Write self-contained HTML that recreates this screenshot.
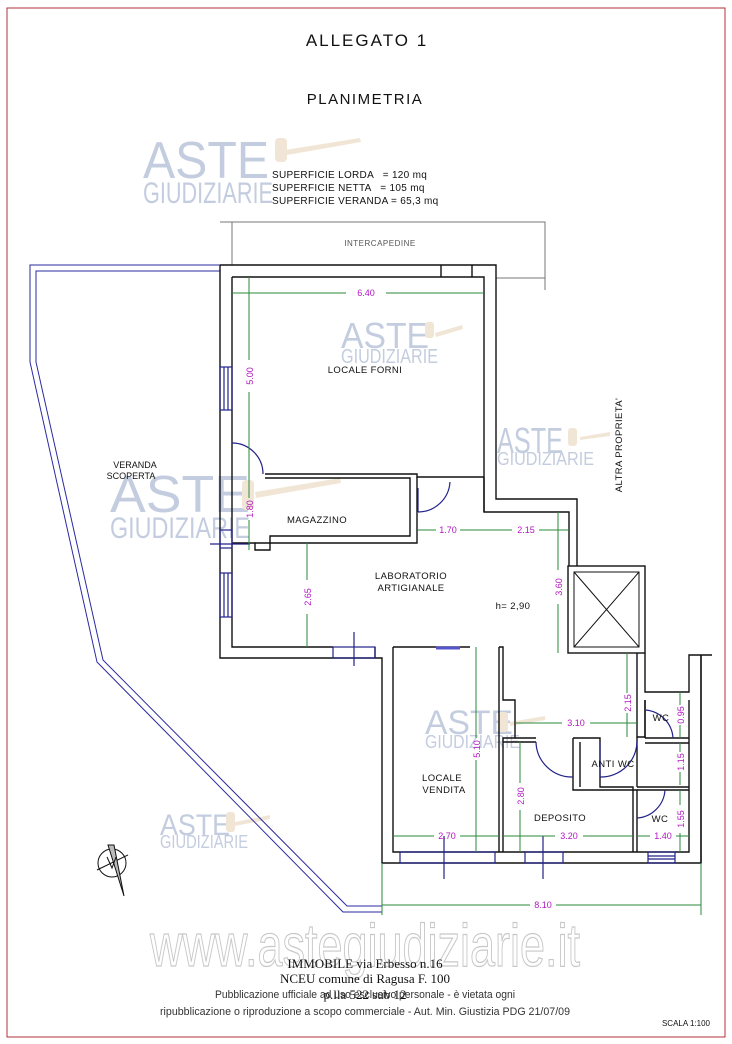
<!DOCTYPE html>
<html><head><meta charset="utf-8"><style>
html,body{margin:0;padding:0;background:#fff;}
svg{display:block;}
.t{font-family:"Liberation Sans",sans-serif;}
</style></head><body>
<svg width="732" height="1044" viewBox="0 0 732 1044" xmlns="http://www.w3.org/2000/svg">
<rect x="7" y="8" width="718" height="1029" fill="none" stroke="#b0303a" stroke-width="1"/>

<!-- watermarks ASTE -->
<g fill="#c3cddf" font-family="Liberation Sans,sans-serif">
 <text x="143" y="178" font-size="52" textLength="126" lengthAdjust="spacingAndGlyphs">ASTE</text>
 <text x="143" y="203" font-size="30" textLength="130" lengthAdjust="spacingAndGlyphs">GIUDIZIARIE</text>
 <text x="341" y="348" font-size="36" textLength="88" lengthAdjust="spacingAndGlyphs">ASTE</text>
 <text x="341" y="363" font-size="20" textLength="97" lengthAdjust="spacingAndGlyphs">GIUDIZIARIE</text>
 <text x="497" y="453" font-size="36" textLength="66" lengthAdjust="spacingAndGlyphs">ASTE</text>
 <text x="497" y="465" font-size="18" textLength="97" lengthAdjust="spacingAndGlyphs">GIUDIZIARIE</text>
 <text x="110" y="512" font-size="52" textLength="140" lengthAdjust="spacingAndGlyphs">ASTE</text>
 <text x="110" y="538" font-size="30" textLength="140" lengthAdjust="spacingAndGlyphs">GIUDIZIARIE</text>
 <text x="425" y="734" font-size="34" textLength="88" lengthAdjust="spacingAndGlyphs">ASTE</text>
 <text x="425" y="748" font-size="18" textLength="95" lengthAdjust="spacingAndGlyphs">GIUDIZIARIE</text>
 <text x="160" y="835" font-size="30" textLength="70" lengthAdjust="spacingAndGlyphs">ASTE</text>
 <text x="160" y="848" font-size="18" textLength="88" lengthAdjust="spacingAndGlyphs">GIUDIZIARIE</text>
</g>
<g fill="#f1e6d6">
 <path d="M285 150 L360 138 L361 142 L287 155Z"/><rect x="275" y="138" width="12" height="24" rx="4"/>
 <path d="M435 333 L462 325 L463 329 L436 337Z"/><rect x="425" y="322" width="9" height="16" rx="3"/>
 <path d="M255 492 L340 478 L341 483 L256 498Z"/><rect x="242" y="480" width="12" height="30" rx="4"/>
 <path d="M510 722 L545 716 L545 720 L510 726Z"/><rect x="498" y="712" width="10" height="20" rx="3"/>
 <path d="M580 437 L610 432 L610 436 L580 440Z"/><rect x="568" y="428" width="9" height="18" rx="3"/>
 <path d="M235 822 L270 815 L270 819 L235 826Z"/><rect x="226" y="812" width="9" height="20" rx="3"/>
</g>

<!-- titles -->
<g class="t" fill="#111">
 <text x="367" y="46" font-size="17" text-anchor="middle" letter-spacing="2">ALLEGATO 1</text>
 <text x="365" y="104" font-size="15" text-anchor="middle" letter-spacing="1.5">PLANIMETRIA</text>
 <text x="272" y="178" font-size="10" letter-spacing="0.3" xml:space="preserve">SUPERFICIE LORDA   = 120 mq</text>
 <text x="272" y="191" font-size="10" letter-spacing="0.3" xml:space="preserve">SUPERFICIE NETTA   = 105 mq</text>
 <text x="272" y="204" font-size="10" letter-spacing="0.3" xml:space="preserve">SUPERFICIE VERANDA = 65,3 mq</text>
</g>

<!-- intercapedine -->
<g stroke="#777" fill="none" stroke-width="1">
 <path d="M220 222 H545 V290"/><path d="M232 222 V265"/><path d="M496 278 H545"/>
</g>
<text x="380" y="246" class="t" font-size="8" fill="#555" text-anchor="middle" letter-spacing="0.5">INTERCAPEDINE</text>

<!-- veranda -->
<g stroke="#2a2aa0" fill="none" stroke-width="1">
 <path d="M220 265 H30 V362 L97 662 L343 912 H382"/>
 <path d="M220 271 H36 V362 L103 660 L347 906 H382"/>
</g>
<text x="135" y="468" class="t" font-size="9" fill="#111" text-anchor="middle">VERANDA</text>
<text x="131" y="479" class="t" font-size="9" fill="#111" text-anchor="middle">SCOPERTA</text>

<!-- walls -->
<g stroke="#111" fill="none" stroke-width="1.4">
 <path d="M220 265 H496 V499 H577 V566"/>
 <path d="M232 277 H484 V512 H569 V566"/>
 <path d="M220 265 V658 H382 V863 H701 V655"/>
 <path d="M232 277 V647 H333"/>
 <path d="M441 277 V265 M472 277 V265"/>
 <path d="M265 474 H417 V477 H484 M265 478 H410 V536 H270 V550 H255 V543 H232"/>
 <path d="M417 477 V543 H255"/>
 <path d="M484 477 V512"/>
 <rect x="568" y="566" width="77" height="87"/>
 <rect x="574" y="572" width="65" height="75" stroke-width="1"/>
 <path d="M574 572 L639 647 M639 572 L574 647" stroke-width="1"/>
 <path d="M645 653 V692 H689 V655 H712"/>
 <path d="M701 655 V863"/>
 <path d="M637 653 V737 H645 V700"/>
 <path d="M393 647 H470 M375 647 V658"/>
 <path d="M393 647 V852 H689 V700"/>
 <path d="M499 647 H503 V700 H515 V738 H503 V852 M499 647 V852"/>
 <path d="M515 738 H536 M503 742 H536"/>
 <path d="M573 738 H600 V787 H633 V852 M573 738 V790 H637 V852 M580 742 V787"/>
 <path d="M637 787 H689 M637 790 H689 M645 738 H689 M645 743 H689"/>
 <path d="M637 737 V787 M645 700 V738"/>
</g>

<!-- windows / doors -->
<g stroke="#22228a" fill="none" stroke-width="1.2">
 <rect x="220" y="367" width="12" height="43"/><path d="M224 367 V410 M228 367 V410"/>
 <rect x="220" y="530" width="12" height="18"/>
 <rect x="220" y="573" width="12" height="44"/><path d="M224 573 V617 M228 573 V617"/>
 <rect x="333" y="647" width="42" height="11"/><path d="M354 632 V666"/>
 <rect x="400" y="852" width="95" height="11"/><path d="M444 836 V879"/>
 <rect x="525" y="852" width="38" height="11"/><path d="M543 836 V879"/>
 <rect x="648" y="852" width="27" height="11"/><path d="M648 856 H675 M648 859 H675"/>
 <path d="M436 648 H460" stroke="#5555cc" stroke-width="3"/>
 <path d="M232 443 A31 31 0 0 1 263 474"/>
 <path d="M418 512 V488 M418 512 A32 32 0 0 0 450 482"/>
 <path d="M536 742 A36 36 0 0 0 573 777"/>
 <path d="M600 742 V777 A36 36 0 0 0 637 740"/>
 <path d="M645 710 A30 30 0 0 1 673 738"/>
 <path d="M637 818 A30 30 0 0 0 665 790"/>
 <path d="M210 544 H250"/>
</g>

<!-- dimensions -->
<g stroke="#2a8a3a" stroke-width="1" fill="none">
 <path d="M232 293 H346 M386 293 H484"/>
 <path d="M249 277 V360 M249 392 V474"/>
 <path d="M249 474 V498 M249 520 V550"/>
 <path d="M307 543 V580 M307 614 V647"/>
 <path d="M418 530 H436 M460 530 H484 M484 530 H512 M539 530 H569"/>
 <path d="M558 512 V570 M558 604 V653"/>
 <path d="M627 653 V693 M627 713 V737"/>
 <path d="M515 723 H562 M590 723 H637"/>
 <path d="M680 692 V705 M680 725 V738 M680 743 V752 M680 772 V785 M680 790 V805 M680 833 V852"/>
 <path d="M476 647 V738 M476 760 V852"/>
 <path d="M520 742 V783 M520 810 V852"/>
 <path d="M393 836 H434 M460 836 H499 M503 836 H555 M583 836 H633 M637 836 H650 M676 836 H689"/>
 <path d="M382 905 H530 M556 905 H701"/>
 <path d="M382 863 V915 M701 863 V915"/>
</g>
<g fill="#b018c0" class="t" font-size="9">
 <text x="366" y="296" text-anchor="middle">6.40</text>
 <text transform="translate(253,376) rotate(-90)" text-anchor="middle">5.00</text>
 <text transform="translate(253,509) rotate(-90)" text-anchor="middle">1.80</text>
 <text transform="translate(311,597) rotate(-90)" text-anchor="middle">2.65</text>
 <text x="448" y="533" text-anchor="middle">1.70</text>
 <text x="526" y="533" text-anchor="middle">2.15</text>
 <text transform="translate(562,587) rotate(-90)" text-anchor="middle">3.60</text>
 <text transform="translate(631,703) rotate(-90)" text-anchor="middle">2.15</text>
 <text x="576" y="726" text-anchor="middle">3.10</text>
 <text transform="translate(684,715) rotate(-90)" text-anchor="middle">0.95</text>
 <text transform="translate(684,762) rotate(-90)" text-anchor="middle">1.15</text>
 <text transform="translate(684,819) rotate(-90)" text-anchor="middle">1.55</text>
 <text transform="translate(480,749) rotate(-90)" text-anchor="middle">5.10</text>
 <text transform="translate(524,796) rotate(-90)" text-anchor="middle">2.80</text>
 <text x="447" y="839" text-anchor="middle">2.70</text>
 <text x="569" y="839" text-anchor="middle">3.20</text>
 <text x="663" y="839" text-anchor="middle">1.40</text>
 <text x="543" y="908" text-anchor="middle">8.10</text>
</g>

<!-- room labels -->
<g class="t" fill="#111" font-size="9.5" text-anchor="middle" letter-spacing="0.4">
 <text x="365" y="373">LOCALE FORNI</text>
 <text x="317" y="523">MAGAZZINO</text>
 <text x="411" y="579">LABORATORIO</text>
 <text x="411" y="591">ARTIGIANALE</text>
 <text x="513" y="609">h= 2,90</text>
 <text x="442" y="781">LOCALE</text>
 <text x="444" y="793">VENDITA</text>
 <text x="560" y="821">DEPOSITO</text>
 <text x="613" y="767">ANTI WC</text>
 <text x="661" y="721">WC</text>
 <text x="660" y="822">WC</text>
 <text transform="translate(622,445) rotate(-90)">ALTRA PROPRIETA'</text>
</g>

<!-- compass -->
<g stroke="#111" fill="none" stroke-width="1">
 <circle cx="112" cy="863" r="14"/>
 <path d="M97 870 L128 855"/>
 <path d="M108 845 L114 845 L124 896 Z" fill="#bbb"/>
 <path d="M107 857 L112 868 L116 857"/>
</g>

<!-- big watermark -->
<text x="365" y="966" text-anchor="middle" font-family="Liberation Sans,sans-serif" font-size="60" fill="#fff" stroke="#c8c8c8" stroke-width="1.2" textLength="430" lengthAdjust="spacingAndGlyphs">www.astegiudiziarie.it</text>

<!-- footer -->
<g text-anchor="middle" fill="#111">
 <text x="365" y="968" font-family="Liberation Serif,serif" font-size="13">IMMOBILE via Erbesso n.16</text>
 <text x="365" y="983" font-family="Liberation Serif,serif" font-size="13">NCEU comune di Ragusa F. 100</text>
 <text x="365" y="999" font-family="Liberation Serif,serif" font-size="13">p.lla 522 sub 12</text>
 <text x="365" y="998" font-family="Liberation Sans,sans-serif" font-size="11" fill="#333" textLength="300" lengthAdjust="spacingAndGlyphs">Pubblicazione ufficiale ad uso esclusivo personale - è vietata ogni</text>
 <text x="365" y="1015" font-family="Liberation Sans,sans-serif" font-size="11" fill="#333" textLength="410" lengthAdjust="spacingAndGlyphs">ripubblicazione o riproduzione a scopo commerciale - Aut. Min. Giustizia PDG 21/07/09</text>
 <text x="686" y="1026" font-family="Liberation Sans,sans-serif" font-size="8">SCALA 1:100</text>
</g>
</svg>
</body></html>
